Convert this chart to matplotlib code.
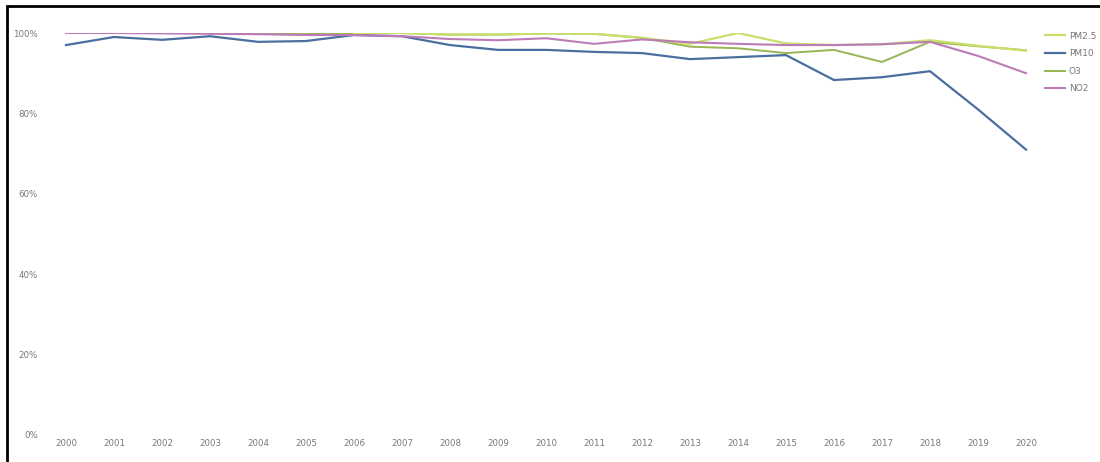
import matplotlib
matplotlib.use("Agg")
import matplotlib.pyplot as plt
from matplotlib.patches import Rectangle
import numpy as np

years = [str(y) for y in range(2000, 2021)]
nan = np.nan

pm25 = [nan, nan, nan, nan, nan, nan, 100, 100, 99.6, 99.6, 99.9, 99.8, 98.8, 97.3, 100,
        97.4, 97.0, 97.2, 98.2, 96.8, 95.6]
pm10 = [97.0, 99.0, 98.3, 99.2, 97.8, 98.0, 99.5, 99.2, 97.0, 95.8, 95.8, 95.3, 95.0, 93.5, 94.0,
        94.5, 88.3, 89.0, 90.5, 81.0, 71.0]
o3 = [100, 100, 100, 100, 100, 100, 100, 100, 99.6, 99.6, 99.9, 99.8, 98.8, 96.6, 96.2,
      95.0, 95.8, 92.8, 97.8, 96.7, 95.7]
no2 = [100, 100, 99.9, 99.8, 99.7, 99.5, 99.5, 99.2, 98.5, 98.2, 98.7, 97.3, 98.4, 97.7, 97.3,
       97.0, 97.0, 97.2, 97.8, 94.3, 90.0]

x = np.arange(len(years))

fig = plt.figure(figsize=(11, 4.62), dpi=100)
ax = fig.add_axes([42/1100, 1-435/462, 1008/1100, 402/462])

ax.plot(x, pm25, color='#c8e06a', lw=1.6, label='PM2.5', zorder=4)
ax.plot(x, pm10, color='#4a6e9e', lw=1.6, label='PM10', zorder=3)
ax.plot(x, o3, color='#97b552', lw=1.4, label='O3', zorder=2)
ax.plot(x, no2, color='#bd7ab9', lw=1.5, label='NO2', zorder=5)

ax.set_xlim(-0.5, len(years) - 0.5)
ax.set_ylim(0, 100)
ax.set_xticks(x)
ax.set_xticklabels(years)
ax.set_yticks([0, 20, 40, 60, 80, 100])
ax.set_yticklabels(['0%', '20%', '40%', '60%', '80%', '100%'])
ax.tick_params(length=0, labelsize=6.2, colors='#777777', pad=3)
for s in ax.spines.values():
    s.set_visible(False)

fig.legend(loc='upper left', bbox_to_anchor=(1040/1100, 1-27/462), frameon=False,
           fontsize=6.5, labelcolor='#777777', handlelength=2.3, handletextpad=0.4,
           labelspacing=0.95, borderpad=0)

# outer frame
fig.add_artist(Rectangle((7/1100, -0.1), 1.0, 1.1 - 6/462, transform=fig.transFigure,
                         fill=False, lw=2, edgecolor='black', clip_on=False))

fig.savefig('out.png', dpi=100)
